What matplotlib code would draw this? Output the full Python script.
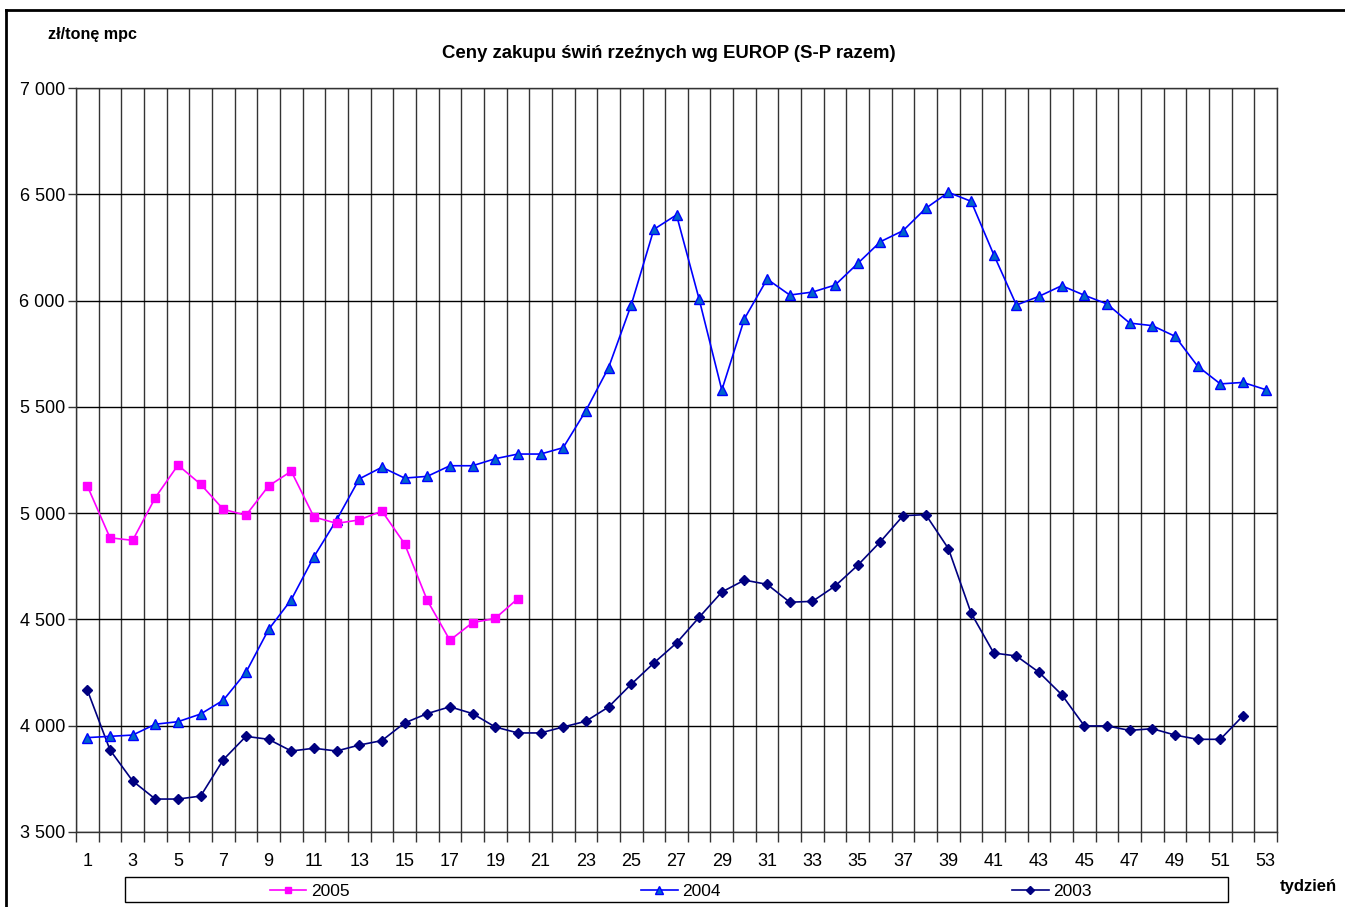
import matplotlib.pyplot as plt
from matplotlib.lines import Line2D
from matplotlib.patches import Rectangle
from matplotlib.ticker import FuncFormatter, MultipleLocator

plt.rcParams['font.family'] = ['Liberation Sans', 'DejaVu Sans']

tygodnie = list(range(1, 54))

ceny_2005 = [5128, 4884, 4872, 5073, 5226, 5136, 5018, 4990, 5128, 5197,
             4982, 4952, 4968, 5010, 4856, 4590, 4402, 4485, 4505, 4598]

ceny_2004 = [3944, 3950, 3956, 4007, 4019, 4055, 4120, 4251, 4453, 4593,
             4795, 4968, 5161, 5216, 5165, 5173, 5223, 5223, 5256, 5278,
             5278, 5308, 5482, 5684, 5979, 6335, 6403, 6006, 5579, 5915,
             6101, 6026, 6040, 6073, 6175, 6277, 6329, 6434, 6509, 6467,
             6216, 5979, 6020, 6070, 6025, 5984, 5894, 5882, 5832, 5691,
             5608, 5615, 5581]

ceny_2003 = [4168, 3886, 3740, 3655, 3655, 3669, 3840, 3950, 3936, 3881,
             3894, 3881, 3909, 3930, 4013, 4057, 4089, 4057, 3994, 3966,
             3966, 3994, 4021, 4088, 4195, 4295, 4389, 4510, 4629, 4685,
             4665, 4581, 4585, 4657, 4755, 4866, 4988, 4993, 4833, 4530,
             4342, 4328, 4251, 4146, 3999, 3999, 3978, 3986, 3956, 3936,
             3936, 4047]

W, H = 1345, 907
fig = plt.figure(figsize=(W / 100, H / 100), dpi=100)
ax = fig.add_axes([76 / W, 1 - 832 / H, (1277 - 76) / W, (832 - 88) / H])

ax.plot(tygodnie[:len(ceny_2005)], ceny_2005, color='#FF00FF', lw=1.2,
        marker='s', ms=6, mfc='#FF00FF', mec='#FF00FF', label='2005', zorder=5)
ax.plot(tygodnie[:len(ceny_2004)], ceny_2004, color='#0000FF', lw=1.2,
        marker='^', ms=7, mfc='#0066CC', mec='#0000FF', label='2004', zorder=4)
ax.plot(tygodnie[:len(ceny_2003)], ceny_2003, color='#000080', lw=1.2,
        marker='D', ms=5.5, mfc='#000080', mec='#000080', label='2003', zorder=3)

ax.set_xlim(0.5, 53.5)
ax.set_ylim(3500, 7000)
ax.yaxis.set_major_locator(MultipleLocator(500))
ax.yaxis.set_major_formatter(FuncFormatter(lambda v, p: f"{int(v):,}".replace(",", " ")))
ax.set_xticks(tygodnie[::2])
ax.set_xticks([t - 0.5 for t in tygodnie] + [53.5], minor=True)
ax.tick_params(axis='x', which='major', length=0, pad=15, labelsize=13)
ax.tick_params(axis='x', which='minor', length=7, width=1, color='#333333')
ax.tick_params(axis='y', length=6, width=1, color='#333333', labelsize=13, pad=2)

ax.grid(axis='y', which='major', color='black', lw=1)
ax.grid(axis='x', which='minor', color='#333333', lw=1)
for s in ax.spines.values():
    s.set_color('#333333')
    s.set_linewidth(1)

fig.text(48 / W, 1 - 35 / H, 'zł/tonę mpc', fontsize=11.6, fontweight='bold',
         ha='left', va='center')
fig.text(669 / W, 1 - 53 / H, 'Ceny zakupu świń rzeźnych wg EUROP (S-P razem)',
         fontsize=13.4, fontweight='bold', ha='center', va='center')
fig.text(1280 / W, 1 - 886 / H, 'tydzień', fontsize=12, fontweight='bold',
         ha='left', va='center')

# ramka legendy
fig.patches.append(Rectangle((125 / W, 1 - 902 / H), (1228 - 125) / W, 25 / H,
                             transform=fig.transFigure, fill=False,
                             edgecolor='black', lw=1))
fig.legend(loc='center left', bbox_to_anchor=(270 / W, 1 - 891 / H), ncol=3,
           frameon=False, fontsize=12.5, handlelength=2.1, handletextpad=0.25,
           columnspacing=16.8, borderpad=0, borderaxespad=0, markerscale=0.8)

# obramowanie wykresu
fig.add_artist(Line2D([6 / W, 6 / W], [0, 1 - 10 / H], transform=fig.transFigure,
                      color='black', lw=2))
fig.add_artist(Line2D([6 / W, 1], [1 - 10 / H, 1 - 10 / H], transform=fig.transFigure,
                      color='black', lw=2))

fig.savefig('out.png', dpi=100)
